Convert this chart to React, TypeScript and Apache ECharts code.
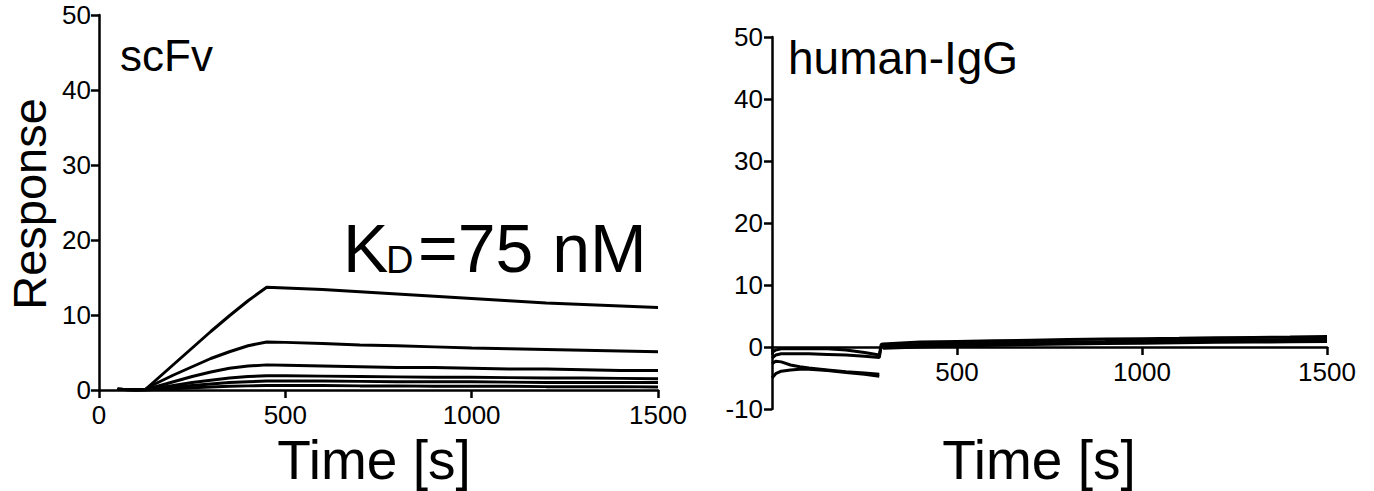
import React, { useEffect, useRef } from "react";
import * as echarts from "echarts";

const FONT = "'Liberation Sans', Arial, sans-serif";

// scFv panel (left)
const scfvTime = [50, 100, 125, 150, 200, 250, 300, 350, 400, 450, 500, 600, 700, 800, 900, 1000, 1100, 1200, 1300, 1400, 1500];
const scfv1 = [0.1, 0.0, 0.1, 1.2, 3.4, 5.6, 7.8, 9.9, 11.9, 13.7, 13.6, 13.4, 13.1, 12.8, 12.5, 12.2, 11.9, 11.6, 11.4, 11.2, 11.0];
const scfv2 = [0.1, 0.0, 0.1, 0.8, 2.0, 3.1, 4.2, 5.1, 5.9, 6.4, 6.35, 6.2, 6.0, 5.9, 5.75, 5.6, 5.5, 5.4, 5.3, 5.2, 5.1];
const scfv3 = [0.1, 0.0, 0.1, 0.4, 1.1, 1.8, 2.4, 2.9, 3.2, 3.35, 3.3, 3.2, 3.1, 3.0, 3.0, 2.9, 2.8, 2.8, 2.7, 2.6, 2.6];
const scfv4 = [0.1, 0.0, 0.0, 0.2, 0.6, 1.0, 1.3, 1.6, 1.8, 1.9, 1.9, 1.85, 1.8, 1.75, 1.7, 1.7, 1.65, 1.6, 1.6, 1.55, 1.5];
const scfv5 = [0.1, 0.0, 0.0, 0.1, 0.4, 0.6, 0.8, 1.0, 1.1, 1.2, 1.2, 1.2, 1.15, 1.1, 1.1, 1.1, 1.05, 1.0, 1.0, 1.0, 1.0];
const scfv6 = [0.1, 0.0, 0.0, 0.05, 0.15, 0.3, 0.4, 0.5, 0.55, 0.6, 0.6, 0.6, 0.55, 0.55, 0.5, 0.5, 0.5, 0.45, 0.45, 0.45, 0.4];

// human-IgG panel (right)
const igTime = [0, 10, 25, 50, 75, 100, 150, 200, 250, 290, 295, 300, 400, 500, 600, 700, 800, 900, 1000, 1100, 1200, 1300, 1400, 1500];
const ig1 = [-0.9, -0.5, -0.3, -0.3, -0.3, -0.3, -0.3, -0.5, -0.9, -1.3, 0.4, 0.5, 0.8, 0.9, 1.0, 1.1, 1.2, 1.3, 1.35, 1.4, 1.5, 1.55, 1.6, 1.7];
const ig2 = [-1.8, -1.3, -1.1, -1.1, -1.1, -1.1, -1.2, -1.3, -1.5, -1.7, 0.1, 0.2, 0.4, 0.55, 0.65, 0.75, 0.85, 0.9, 1.0, 1.05, 1.1, 1.15, 1.2, 1.25];
const ig3 = [-2.7, -2.3, -2.4, -2.9, -3.2, -3.4, -3.7, -4.0, -4.2, -4.4, null, 0.0, 0.2, 0.35, 0.45, 0.55, 0.65, 0.7, 0.8, 0.85, 0.9, 0.95, 1.0, 1.05];
const ig4 = [-5.0, -4.3, -3.9, -3.7, -3.6, -3.6, -3.8, -4.1, -4.4, -4.7, null, -0.2, 0.0, 0.15, 0.3, 0.4, 0.5, 0.55, 0.6, 0.7, 0.75, 0.8, 0.85, 0.9];

const scfvSeries = [scfv1, scfv2, scfv3, scfv4, scfv5, scfv6];
const igSeries = [ig1, ig2, ig3, ig4];

const pairs = (t: number[], v: (number | null)[]) => t.map((x, i) => [x, v[i] === null ? null : v[i]]);

export default function App() {
  const ref = useRef<HTMLDivElement>(null);
  useEffect(() => {
    if (!ref.current) return;
    const chart = echarts.init(ref.current, null, { renderer: "svg" });
    const axisLine = { show: true, onZero: false, lineStyle: { color: "#000", width: 2.5 } };
    const axisTick = { show: true, inside: false, length: 8, lineStyle: { color: "#000", width: 2.5 } };
    const label = (margin: number) => ({
      color: "#000", fontSize: 26, fontFamily: FONT, margin,
      formatter: (v: number) => String(v),
    });
    const lineSeries = (data: any[], idx: number) => ({
      type: "line",
      data,
      xAxisIndex: idx,
      yAxisIndex: idx,
      showSymbol: false,
      connectNulls: false,
      lineStyle: { color: "#000", width: 3 },
      itemStyle: { color: "#000" },
      silent: true,
    });
    chart.setOption({
      animation: false,
      backgroundColor: "#fff",
      grid: [
        { left: 99, top: 15, width: 559, height: 375 },
        { left: 772, top: 37, width: 555, height: 372 },
      ],
      xAxis: [
        {
          type: "value", gridIndex: 0, min: 0, max: 1500, interval: 500,
          axisLine, axisTick, axisLabel: label(12), splitLine: { show: false },
        },
        {
          type: "value", gridIndex: 1, min: 0, max: 1500, interval: 500,
          offset: -62,
          axisLine, axisTick,
          axisLabel: { ...label(12), formatter: (v: number) => (v === 0 ? "" : String(v)) },
          splitLine: { show: false },
        },
      ],
      yAxis: [
        {
          type: "value", gridIndex: 0, min: 0, max: 50, interval: 10,
          axisLine, axisTick, axisLabel: label(8), splitLine: { show: false },
        },
        {
          type: "value", gridIndex: 1, min: -10, max: 50, interval: 10,
          axisLine, axisTick, axisLabel: label(9), splitLine: { show: false },
        },
      ],
      series: [
        ...scfvSeries.map((s) => lineSeries(pairs(scfvTime, s), 0)),
        ...igSeries.map((s) => lineSeries(pairs(igTime, s), 1)),
      ],
      graphic: [
        { type: "text", x: 120, y: 55, style: { text: "scFv", font: `44px ${FONT}`, fill: "#000", verticalAlign: "middle", align: "left" } },
        { type: "text", x: 788, y: 58, style: { text: "human-IgG", font: `46px ${FONT}`, fill: "#000", verticalAlign: "middle", align: "left" } },
        { type: "text", x: 343, y: 248, style: { text: "K", font: `68px ${FONT}`, fill: "#000", verticalAlign: "middle", align: "left" } },
        { type: "text", x: 386, y: 260, style: { text: "D", font: `38px ${FONT}`, fill: "#000", verticalAlign: "middle", align: "left" } },
        { type: "text", x: 418, y: 248, style: { text: "=75 nM", font: `68px ${FONT}`, fill: "#000", verticalAlign: "middle", align: "left" } },
        { type: "text", x: 29, y: 204, rotation: Math.PI / 2, style: { text: "Response", font: `47px ${FONT}`, fill: "#000", verticalAlign: "middle", align: "center" } },
        { type: "text", x: 374, y: 460, style: { text: "Time [s]", font: `55px ${FONT}`, fill: "#000", verticalAlign: "middle", align: "center" } },
        { type: "text", x: 1039, y: 460, style: { text: "Time [s]", font: `55px ${FONT}`, fill: "#000", verticalAlign: "middle", align: "center" } },
      ],
    });
    return () => chart.dispose();
  }, []);
  return (
    <div
      ref={ref}
      style={{ position: "absolute", left: 0, top: 0, width: 1374, height: 491, background: "#fff" }}
    />
  );
}
